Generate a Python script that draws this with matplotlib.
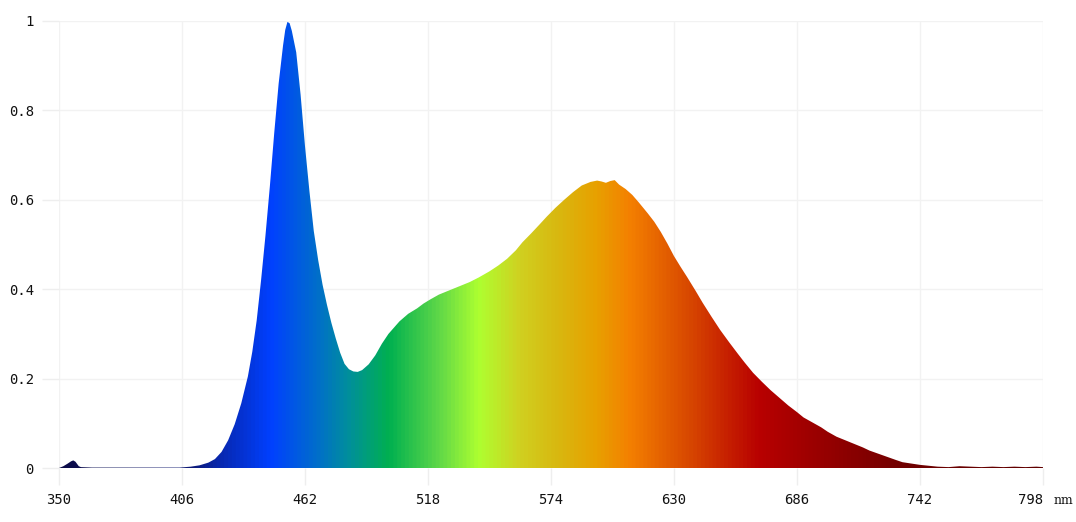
import numpy as np
import matplotlib
matplotlib.use("Agg")
import matplotlib.pyplot as plt
from matplotlib.colors import LinearSegmentedColormap

# spectrum (nm, relative intensity), rows of 10
wavelength = [350, 352, 354, 355.5, 356.5, 357.5, 359, 360, 365, 375,
              385, 395, 405, 410, 414, 418, 421, 424, 427, 430,
              433, 436, 438, 440, 442, 444, 446, 448, 450, 452,
              453, 454, 455, 456, 458, 460, 462, 464, 466, 468,
              470, 472, 474, 476, 478, 480, 482, 484, 486, 488,
              491, 494, 497, 500, 505, 509, 513, 516, 519, 523,
              528, 532, 537, 541, 546, 550, 554, 558, 561, 565,
              569, 572, 576, 580, 584, 588, 592, 595, 597, 599,
              601, 603, 605, 608, 611, 614, 618, 621, 624, 627,
              630, 633, 636, 640, 643, 647, 651, 655, 659, 662,
              666, 670, 674, 678, 682, 686, 689, 693, 697, 700,
              704, 708, 712, 716, 719, 723, 727, 731, 734, 738,
              742, 746, 750, 755, 760, 765, 770, 775, 780, 785,
              790, 795, 798]
intensity = [0.0, 0.004, 0.010, 0.015, 0.017, 0.014, 0.004, 0.002, 0.001, 0.001,
             0.001, 0.001, 0.001, 0.003, 0.006, 0.012, 0.020, 0.036, 0.062, 0.098,
             0.145, 0.205, 0.26, 0.33, 0.42, 0.52, 0.63, 0.75, 0.86, 0.945,
             0.98, 0.998, 0.995, 0.978, 0.93, 0.835, 0.72, 0.62, 0.53, 0.465,
             0.41, 0.365, 0.325, 0.29, 0.258, 0.233, 0.221, 0.216, 0.215, 0.219,
             0.232, 0.252, 0.278, 0.30, 0.328, 0.345, 0.357, 0.368, 0.377, 0.388,
             0.398, 0.406, 0.416, 0.426, 0.44, 0.453, 0.468, 0.487, 0.505, 0.525,
             0.546, 0.562, 0.582, 0.60, 0.617, 0.632, 0.640, 0.643, 0.641, 0.638,
             0.642, 0.644, 0.634, 0.624, 0.611, 0.594, 0.570, 0.551, 0.528, 0.502,
             0.474, 0.450, 0.427, 0.395, 0.370, 0.339, 0.309, 0.282, 0.256, 0.237,
             0.213, 0.193, 0.174, 0.157, 0.140, 0.125, 0.113, 0.102, 0.091, 0.081,
             0.070, 0.062, 0.054, 0.046, 0.039, 0.032, 0.025, 0.018, 0.013, 0.010,
             0.007, 0.005, 0.003, 0.002, 0.004, 0.003, 0.002, 0.003, 0.002, 0.003,
             0.002, 0.003, 0.002]

# colour stops of the wavelength gradient
stop_nm = [350, 410, 423, 446, 468, 482, 500, 523, 541, 560, 577, 595, 610,
           637, 669, 705, 736, 798]
stop_color = ["#0c0c48", "#0e1a78", "#0828b0", "#0040ff", "#0070c8", "#00909a",
              "#00b050", "#60d848", "#aeff30", "#d0d020", "#d8b810", "#e8a000",
              "#f48000", "#d84800", "#b80000", "#900000", "#700000", "#600000"]

xticks = [350, 406, 462, 518, 574, 630, 686, 742, 798]
yticks = [0, 0.2, 0.4, 0.6, 0.8, 1]
ytick_labels = ["0", "0.2", "0.4", "0.6", "0.8", "1"]

plt.rcParams["font.family"] = "DejaVu Sans Mono"

fig = plt.figure(figsize=(10.76, 5.22), dpi=100)
ax = fig.add_axes([59 / 1076, 54 / 522, 984 / 1076, 447 / 522])

x0, x1 = 350, 798
pos = [(n - x0) / (x1 - x0) for n in stop_nm]
cmap = LinearSegmentedColormap.from_list("spec", list(zip(pos, stop_color)))

poly = ax.fill_between(wavelength, intensity, 0, color="none", lw=0)
grad = np.linspace(0, 1, 1024).reshape(1, -1)
img = ax.imshow(grad, cmap=cmap, aspect="auto", extent=[x0, x1, 0, 1.0],
                origin="lower", interpolation="bilinear", zorder=2)
path = poly.get_paths()[0]
img.set_clip_path(path, transform=ax.transData)

ax.set_xlim(x0, x1)
ax.set_ylim(0, 1)
ax.set_xticks(xticks)
ax.set_xticklabels([str(t) for t in xticks])
ax.set_yticks(yticks)
ax.set_yticklabels(ytick_labels)
ax.grid(True, color="#f2f2f2", lw=1, zorder=0)
ax.set_axisbelow(True)
for s in ax.spines.values():
    s.set_visible(False)
ax.tick_params(axis="both", colors="#eeeeee", labelcolor="#111111",
               labelsize=10, length=12, width=1, pad=6)

# last x label ends at its tick so the unit fits beside it
ax.get_xticklabels()[-1].set_ha("right")

ax.text(803, -0.072, "nm", fontsize=9, color="#111111",
        family="DejaVu Serif", va="center", ha="left", clip_on=False)

fig.savefig("out.png", dpi=100, facecolor="white")
